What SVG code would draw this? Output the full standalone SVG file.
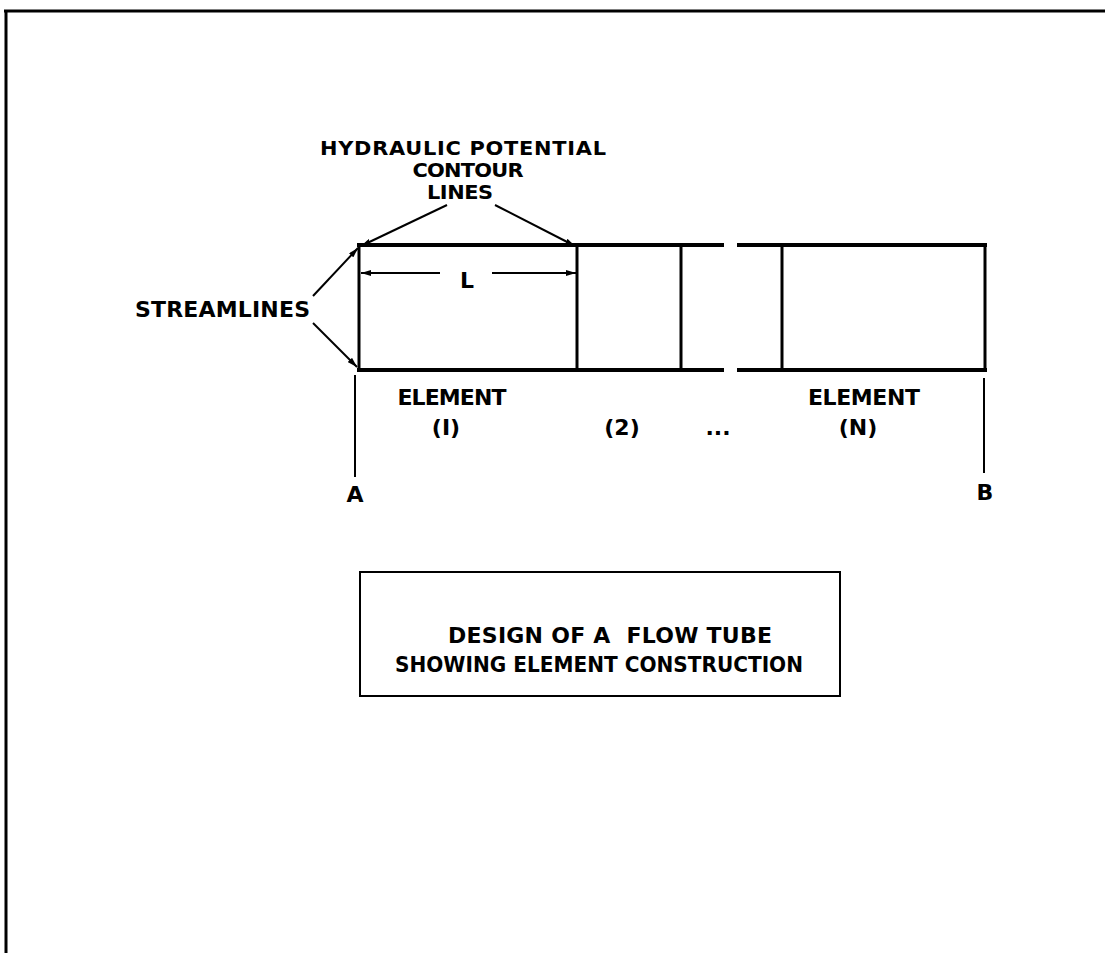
<svg xmlns="http://www.w3.org/2000/svg" width="1105" height="953" viewBox="0 0 1105 953">
<defs>
<marker id="ah" viewBox="0 0 10 6" refX="10" refY="3" markerWidth="10" markerHeight="6" markerUnits="userSpaceOnUse" orient="auto">
<path d="M0,0 L10,3 L0,6 Z" fill="#000"/>
</marker>
</defs>
<style>
text{font-family:"DejaVu Sans","Liberation Sans",sans-serif;font-weight:bold;fill:#000;font-size:22px}
.h{font-size:19px}
.t{stroke:#000;stroke-width:4;fill:none}
.d{stroke:#000;stroke-width:3;fill:none}
.c{stroke:#000;stroke-width:2;fill:none}
</style>
<rect width="1105" height="953" fill="#fff"/>
<g id="frame">
<line class="d" x1="4" y1="11" x2="1105" y2="11"/>
<line class="d" x1="6" y1="10" x2="6" y2="953"/>
</g>
<g id="tube">
<line class="t" x1="357" y1="245" x2="724" y2="245"/>
<line class="t" x1="737" y1="245" x2="987" y2="245"/>
<line class="t" x1="357" y1="370" x2="724" y2="370"/>
<line class="t" x1="737" y1="370" x2="987" y2="370"/>
<line class="d" x1="359" y1="245" x2="359" y2="370"/>
<line class="d" x1="577" y1="245" x2="577" y2="370"/>
<line class="d" x1="681" y1="245" x2="681" y2="370"/>
<line class="d" x1="782" y1="245" x2="782" y2="370"/>
<line class="d" x1="985" y1="245" x2="985" y2="370"/>
</g>
<g id="connectors">
<line class="c" x1="447" y1="205" x2="361" y2="246" marker-end="url(#ah)"/>
<line class="c" x1="495" y1="205" x2="575" y2="246" marker-end="url(#ah)"/>
<line class="c" x1="313" y1="296" x2="358" y2="248" marker-end="url(#ah)"/>
<line class="c" x1="313" y1="323" x2="357" y2="367" marker-end="url(#ah)"/>
<line class="c" x1="440" y1="273" x2="361" y2="273" marker-end="url(#ah)"/>
<line class="c" x1="492" y1="273" x2="576" y2="273" marker-end="url(#ah)"/>
<line class="c" x1="355" y1="375" x2="355" y2="477"/>
<line class="c" x1="984" y1="378" x2="984" y2="473"/>
</g>
<g id="label-hydraulic">
<text class="h" transform="translate(463,155) scale(1.1,1)" text-anchor="middle" textLength="260">HYDRAULIC POTENTIAL</text>
<text class="h" transform="translate(468,177) scale(1.1,1)" text-anchor="middle" textLength="101">CONTOUR</text>
<text class="h" transform="translate(460,199) scale(1.1,1)" text-anchor="middle" textLength="60">LINES</text>
</g>
<g id="label-streamlines">
<text x="135" y="317" textLength="175">STREAMLINES</text>
</g>
<g id="label-L">
<text x="467" y="288" text-anchor="middle">L</text>
</g>
<g id="labels-elements">
<text x="452" y="405" text-anchor="middle" textLength="109">ELEMENT</text>
<text x="446" y="435" text-anchor="middle">(I)</text>
<text x="622" y="435" text-anchor="middle">(2)</text>
<text x="718" y="435" text-anchor="middle">...</text>
<text x="864" y="405" text-anchor="middle" textLength="112">ELEMENT</text>
<text x="858" y="435" text-anchor="middle">(N)</text>
<text x="355" y="502" text-anchor="middle">A</text>
<text x="985" y="500" text-anchor="middle">B</text>
</g>
<g id="caption">
<rect x="360" y="572" width="480" height="124" fill="none" stroke="#000" stroke-width="2"/>
<text x="610" y="643" text-anchor="middle" textLength="324" xml:space="preserve">DESIGN OF A  FLOW TUBE</text>
<text x="599" y="672" text-anchor="middle" textLength="408" lengthAdjust="spacingAndGlyphs">SHOWING ELEMENT CONSTRUCTION</text>
</g>
</svg>
